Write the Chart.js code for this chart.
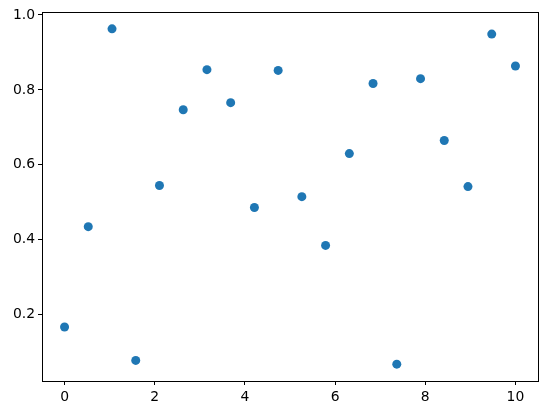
<!DOCTYPE html>
<html>
<head>
<meta charset="utf-8">
<script src="https://cdn.jsdelivr.net/npm/chart.js@4/dist/chart.umd.min.js"></script>
<style>
  html, body { margin: 0; padding: 0; background: #fff; }
  #wrap { width: 547px; height: 415px; }
</style>
</head>
<body>
<div id="wrap"><canvas id="scatterChart" width="547" height="415"></canvas></div>
<script>
// ── data ──────────────────────────────────────────────
const X_VALUES = [0, 0.526, 1.053, 1.579, 2.105, 2.632, 3.158, 3.684, 4.211, 4.737,
                  5.263, 5.789, 6.316, 6.842, 7.368, 7.895, 8.421, 8.947, 9.474, 10];
const Y_VALUES = [0.167, 0.435, 0.963, 0.078, 0.545, 0.747, 0.854, 0.766, 0.486, 0.852,
                  0.515, 0.385, 0.630, 0.817, 0.068, 0.830, 0.665, 0.542, 0.949, 0.864];
const X_TICKS = [0, 2, 4, 6, 8, 10];
const Y_TICKS = [0.2, 0.4, 0.6, 0.8, 1.0];

const POINT_COLOR = '#1f77b4';
const TEXT_FONT = { family: 'DejaVu Sans', size: 13.9 };

// frame round the plot area (matplotlib spines)
const framePlugin = {
  id: 'frame',
  afterDraw(chart) {
    const { ctx, chartArea: a } = chart;
    ctx.save();
    ctx.strokeStyle = '#000';
    ctx.lineWidth = 1;
    ctx.strokeRect(Math.round(a.left) + 0.5, Math.round(a.top) + 0.5,
                   Math.round(a.right - a.left), Math.round(a.bottom - a.top));
    ctx.restore();
  }
};

new Chart(document.getElementById('scatterChart'), {
  type: 'scatter',
  data: {
    datasets: [{
      data: X_VALUES.map((x, i) => ({ x, y: Y_VALUES[i] })),
      backgroundColor: POINT_COLOR,
      borderWidth: 0,
      pointRadius: 4.5,
      pointHoverRadius: 4.5
    }]
  },
  options: {
    responsive: false,
    animation: false,
    layout: { padding: { left: 0, top: 12, right: 9, bottom: 0 } },
    plugins: { legend: { display: false }, tooltip: { enabled: false } },
    scales: {
      x: {
        type: 'linear', min: -0.5, max: 10.5,
        afterBuildTicks: s => { s.ticks = X_TICKS.map(v => ({ value: v })); },
        afterFit: s => { s.height = 34; },
        grid: { drawOnChartArea: false, color: '#000', tickLength: 4, tickWidth: 1 },
        border: { display: false },
        ticks: { color: '#000', font: TEXT_FONT, padding: 4, maxRotation: 0, callback: v => String(v) }
      },
      y: {
        type: 'linear', min: 0.023, max: 1.008,
        afterBuildTicks: s => { s.ticks = Y_TICKS.map(v => ({ value: v })); },
        afterFit: s => { s.width = 42; },
        grid: { drawOnChartArea: false, color: '#000', tickLength: 4, tickWidth: 1 },
        border: { display: false },
        ticks: { color: '#000', font: TEXT_FONT, padding: 3, callback: v => v.toFixed(1) }
      }
    }
  },
  plugins: [framePlugin]
});
</script>
</body>
</html>
